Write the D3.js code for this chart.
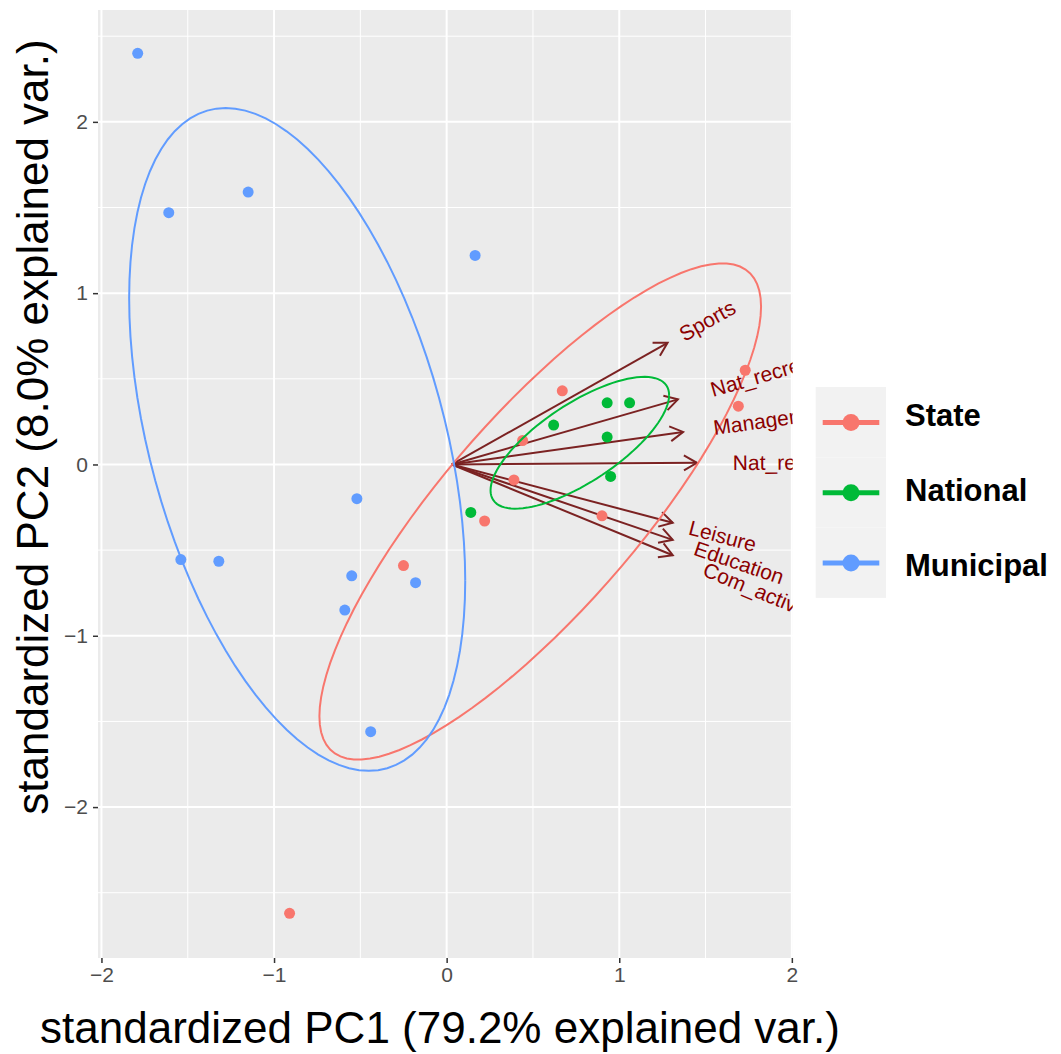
<!DOCTYPE html>
<html>
<head>
<meta charset="utf-8">
<script src="https://cdn.jsdelivr.net/npm/d3@7"></script>
<style>
  body { margin: 0; background: #fff; }
  text { font-family: "Liberation Sans", Arial, sans-serif; }
</style>
</head>
<body>
<div id="chart"></div>
<script>
// Canvas size
var width = 1061, height = 1054;

// Groups and colours (ggplot default hues)
var groups = ["State", "National", "Municipal"];
var groupColors = ["#F8766D", "#00BA38", "#619CFF"];

// Scores, one pair of arrays per group
var statePC1 = [-0.91, -0.25, 0.22, 0.39, 0.44, 0.67, 0.90, 1.73, 1.69];
var statePC2 = [-2.62, -0.59, -0.33, -0.09, 0.14, 0.43, -0.30, 0.55, 0.34];
var nationalPC1 = [0.93, 1.06, 0.62, 0.93, 0.95, 0.14];
var nationalPC2 = [0.36, 0.36, 0.23, 0.16, -0.07, -0.28];
var municipalPC1 = [-1.79, -1.61, -1.15, 0.165, -1.54, -1.32, -0.52, -0.55, -0.18, -0.59, -0.44];
var municipalPC2 = [2.40, 1.47, 1.59, 1.22, -0.555, -0.565, -0.20, -0.65, -0.69, -0.85, -1.56];

// Loadings (arrows)
var varNames = ["Sports", "Nat_recreation", "Management", "Nat_restoration", "Leisure", "Education", "Com_activities"];
var varPC1 = [1.28, 1.34, 1.37, 1.45, 1.31, 1.31, 1.31];
var varPC2 = [0.71, 0.38, 0.19, 0.01, -0.34, -0.44, -0.53];
var arrowOrigin = [0.03, 0];

// Axis ticks
var xTicks = [-2, -1, 0, 1, 2];
var yTicks = [-2, -1, 0, 1, 2];
var xMinor = [-1.5, -0.5, 0.5, 1.5];
var yMinor = [-2.5, -1.5, -0.5, 0.5, 1.5, 2.5];
var ellipseProb = 0.68;

var xLabel = "standardized PC1 (79.2% explained var.)";
var yLabel = "standardized PC2 (8.0% explained var.)";

var scores = [
  { x: statePC1, y: statePC2 },
  { x: nationalPC1, y: nationalPC2 },
  { x: municipalPC1, y: municipalPC2 }
];

// Panel
var panel = { left: 98, right: 792.7, top: 10, bottom: 958 };

var x = d3.scaleLinear().domain([-2.02, 2.005]).range([panel.left, panel.right]);
var y = d3.scaleLinear().domain([2.653, -2.881]).range([panel.top, panel.bottom]);

var svg = d3.select("#chart")
  .append("svg")
  .attr("width", width)
  .attr("height", height);

svg.append("defs").append("clipPath")
  .attr("id", "panel-clip")
  .append("rect")
  .attr("x", panel.left).attr("y", panel.top)
  .attr("width", panel.right - panel.left)
  .attr("height", panel.bottom - panel.top);

svg.append("rect")
  .attr("x", panel.left).attr("y", panel.top)
  .attr("width", panel.right - panel.left)
  .attr("height", panel.bottom - panel.top)
  .attr("fill", "#EBEBEB");

// Grid lines
var grid = svg.append("g");
grid.selectAll(".xminor").data(xMinor).enter().append("line")
  .attr("x1", x).attr("x2", x)
  .attr("y1", panel.top).attr("y2", panel.bottom)
  .attr("stroke", "#fff").attr("stroke-width", 1);
grid.selectAll(".yminor").data(yMinor).enter().append("line")
  .attr("y1", y).attr("y2", y)
  .attr("x1", panel.left).attr("x2", panel.right)
  .attr("stroke", "#fff").attr("stroke-width", 1);
grid.selectAll(".xmajor").data(xTicks).enter().append("line")
  .attr("x1", x).attr("x2", x)
  .attr("y1", panel.top).attr("y2", panel.bottom)
  .attr("stroke", "#fff").attr("stroke-width", 2);
grid.selectAll(".ymajor").data(yTicks).enter().append("line")
  .attr("y1", y).attr("y2", y)
  .attr("x1", panel.left).attr("x2", panel.right)
  .attr("stroke", "#fff").attr("stroke-width", 2);

// Axes
var fmt = d3.format("d");
var xAxis = svg.append("g")
  .attr("transform", "translate(0," + panel.bottom + ")")
  .call(d3.axisBottom(x).tickValues(xTicks).tickFormat(fmt).tickSize(5).tickPadding(4));
var yAxis = svg.append("g")
  .attr("transform", "translate(" + panel.left + ",0)")
  .call(d3.axisLeft(y).tickValues(yTicks).tickFormat(fmt).tickSize(5).tickPadding(5));
[xAxis, yAxis].forEach(function(a) {
  a.select(".domain").remove();
  a.selectAll(".tick line").attr("stroke", "#333").attr("stroke-width", 1.5);
  a.selectAll(".tick text")
    .attr("fill", "#4D4D4D")
    .style("font-size", "21px")
    .style("font-family", "'Liberation Sans', Arial, sans-serif");
});

var g = svg.append("g").attr("clip-path", "url(#panel-clip)");

// Arrows
var ox = x(arrowOrigin[0]), oy = y(arrowOrigin[1]);
var arrowColor = "#7B2222";
varNames.forEach(function(name, i) {
  var tx = x(varPC1[i]), ty = y(varPC2[i]);
  var ang = Math.atan2(ty - oy, tx - ox);
  var hl = 15, ha = Math.PI / 6;
  g.append("line")
    .attr("x1", ox).attr("y1", oy).attr("x2", tx).attr("y2", ty)
    .attr("stroke", arrowColor).attr("stroke-width", 2);
  g.append("path")
    .attr("d", "M" + (tx - hl * Math.cos(ang - ha)) + "," + (ty - hl * Math.sin(ang - ha)) +
               "L" + tx + "," + ty +
               "L" + (tx - hl * Math.cos(ang + ha)) + "," + (ty - hl * Math.sin(ang + ha)))
    .attr("fill", "none").attr("stroke", arrowColor).attr("stroke-width", 2);
});

// Points
scores.forEach(function(s, k) {
  g.selectAll(".pt" + k)
    .data(d3.range(s.x.length))
    .enter().append("circle")
    .attr("cx", function(i) { return x(s.x[i]); })
    .attr("cy", function(i) { return y(s.y[i]); })
    .attr("r", 5.5)
    .attr("fill", groupColors[k]);
});

// Normal data ellipses (as in ggbiplot)
var ed = Math.sqrt(-2 * Math.log(1 - ellipseProb));
scores.forEach(function(s, k) {
  var n = s.x.length;
  var mx = d3.mean(s.x), my = d3.mean(s.y);
  var sxx = 0, syy = 0, sxy = 0;
  for (var i = 0; i < n; i++) {
    sxx += (s.x[i] - mx) * (s.x[i] - mx);
    syy += (s.y[i] - my) * (s.y[i] - my);
    sxy += (s.x[i] - mx) * (s.y[i] - my);
  }
  sxx /= (n - 1); syy /= (n - 1); sxy /= (n - 1);
  var a = Math.sqrt(sxx), b = sxy / a, c = Math.sqrt(syy - b * b);
  var pts = d3.range(0, 101).map(function(j) {
    var t = 2 * Math.PI * j / 100;
    var ex = mx + ed * Math.cos(t) * a;
    var ey = my + ed * (Math.cos(t) * b + Math.sin(t) * c);
    return [x(ex), y(ey)];
  });
  g.append("path")
    .attr("d", d3.line()(pts))
    .attr("fill", "none")
    .attr("stroke", groupColors[k])
    .attr("stroke-width", 2);
});

// Variable labels
varNames.forEach(function(name, i) {
  var tx = x(varPC1[i]), ty = y(varPC2[i]);
  var ang = Math.atan2(ty - oy, tx - ox);
  var t = g.append("text")
    .text(name)
    .attr("fill", "#8B0000")
    .style("font-size", "21px")
    .attr("dominant-baseline", "central");
  var w = t.node().getComputedTextLength();
  var px = tx + 0.25 * w * Math.cos(ang), py = ty + 0.25 * w * Math.sin(ang);
  t.attr("transform", "translate(" + px + "," + py + ") rotate(" + (ang * 180 / Math.PI) + ")");
});

// Axis titles
svg.append("text")
  .attr("x", 440).attr("y", 1043)
  .attr("text-anchor", "middle")
  .style("font-size", "44px")
  .attr("fill", "#000")
  .text(xLabel);
svg.append("text")
  .attr("transform", "translate(48,427) rotate(-90)")
  .attr("text-anchor", "middle")
  .style("font-size", "44px")
  .attr("fill", "#000")
  .text(yLabel);

// Legend
var legend = svg.append("g");
groups.forEach(function(name, i) {
  var ky = 387 + i * 70.3;
  legend.append("rect")
    .attr("x", 815.7).attr("y", ky)
    .attr("width", 70.3).attr("height", 70.3)
    .attr("fill", "#F2F2F2");
  legend.append("line")
    .attr("x1", 822.7).attr("x2", 879.3)
    .attr("y1", ky + 35.5).attr("y2", ky + 35.5)
    .attr("stroke", groupColors[i]).attr("stroke-width", 5);
  legend.append("circle")
    .attr("cx", 851).attr("cy", ky + 35.5)
    .attr("r", 8.5).attr("fill", groupColors[i]);
  legend.append("text")
    .attr("x", 905).attr("y", 415.5 + i * 75)
    .attr("dominant-baseline", "central")
    .style("font-size", "31px")
    .style("font-weight", "bold")
    .attr("fill", "#000")
    .text(name);
});
</script>
</body>
</html>
